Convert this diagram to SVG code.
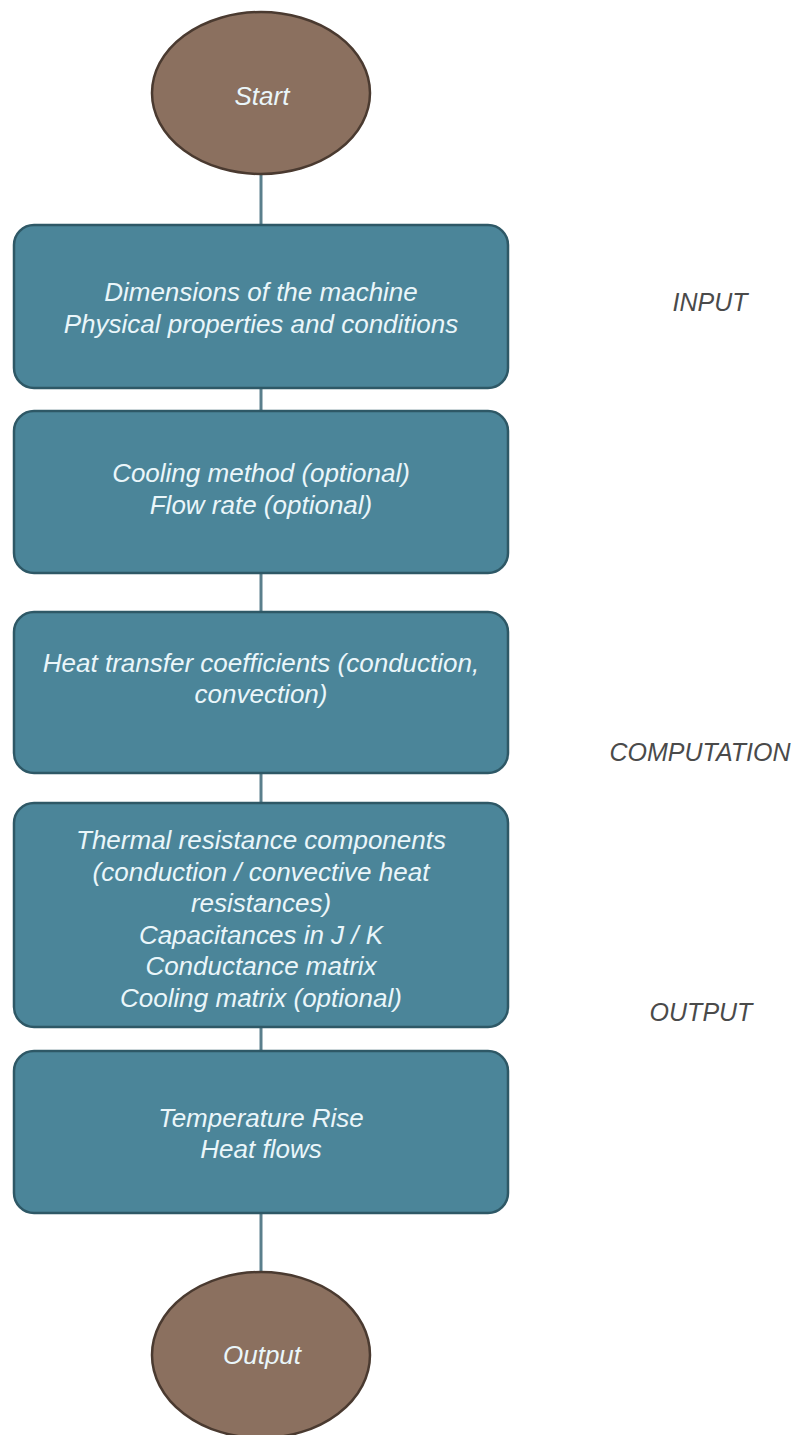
<svg xmlns="http://www.w3.org/2000/svg" width="804" height="1435" viewBox="0 0 804 1435">
<style>
.box{fill:#4b8599;stroke:#2e5866;stroke-width:2.5}
.ell{fill:#8b705f;stroke:#4a3a30;stroke-width:2.5}
.t{font-family:"Liberation Sans",Arial,sans-serif;font-style:italic;font-size:26px;fill:#eaf6fa;text-anchor:middle;dominant-baseline:central}
.lab{font-family:"Liberation Sans",Arial,sans-serif;font-style:italic;font-size:25px;fill:#4a4a4a;text-anchor:middle;dominant-baseline:central}
.c{stroke:#5a7f8c;stroke-width:3;fill:none}
</style>
<rect width="804" height="1435" fill="#ffffff"/>
<g id="connectors">
<line class="c" x1="261" y1="174" x2="261" y2="225"/>
<line class="c" x1="261" y1="388" x2="261" y2="411"/>
<line class="c" x1="261" y1="573" x2="261" y2="612"/>
<line class="c" x1="261" y1="773" x2="261" y2="803"/>
<line class="c" x1="261" y1="1027" x2="261" y2="1051"/>
<line class="c" x1="261" y1="1213" x2="261" y2="1272"/>
</g>
<g id="start">
<ellipse class="ell" cx="261" cy="93" rx="109" ry="81"/>
<text class="t" x="262" y="96">Start</text>
</g>
<g id="box1">
<rect class="box" x="14" y="225" width="494" height="163" rx="20"/>
<text class="t" x="261" y="292">Dimensions of the machine</text>
<text class="t" x="261" y="324">Physical properties and conditions</text>
</g>
<g id="box2">
<rect class="box" x="14" y="411" width="494" height="162" rx="20"/>
<text class="t" x="261" y="473">Cooling method (optional)</text>
<text class="t" x="261" y="505">Flow rate (optional)</text>
</g>
<g id="box3">
<rect class="box" x="14" y="612" width="494" height="161" rx="20"/>
<text class="t" x="261" y="663">Heat transfer coefficients (conduction,</text>
<text class="t" x="261" y="694">convection)</text>
</g>
<g id="box4">
<rect class="box" x="14" y="803" width="494" height="224" rx="20"/>
<text class="t" x="261" y="840">Thermal resistance components</text>
<text class="t" x="261" y="872">(conduction / convective heat</text>
<text class="t" x="261" y="903">resistances)</text>
<text class="t" x="261" y="935">Capacitances in J / K</text>
<text class="t" x="261" y="966">Conductance matrix</text>
<text class="t" x="261" y="998">Cooling matrix (optional)</text>
</g>
<g id="box5">
<rect class="box" x="14" y="1051" width="494" height="162" rx="20"/>
<text class="t" x="261" y="1118">Temperature Rise</text>
<text class="t" x="261" y="1149">Heat flows</text>
</g>
<g id="output">
<ellipse class="ell" cx="261" cy="1355" rx="109" ry="83"/>
<text class="t" x="262" y="1355">Output</text>
</g>
<g id="labels">
<text class="lab" x="710" y="302">INPUT</text>
<text class="lab" x="700" y="752">COMPUTATION</text>
<text class="lab" x="701" y="1012">OUTPUT</text>
</g>
</svg>
